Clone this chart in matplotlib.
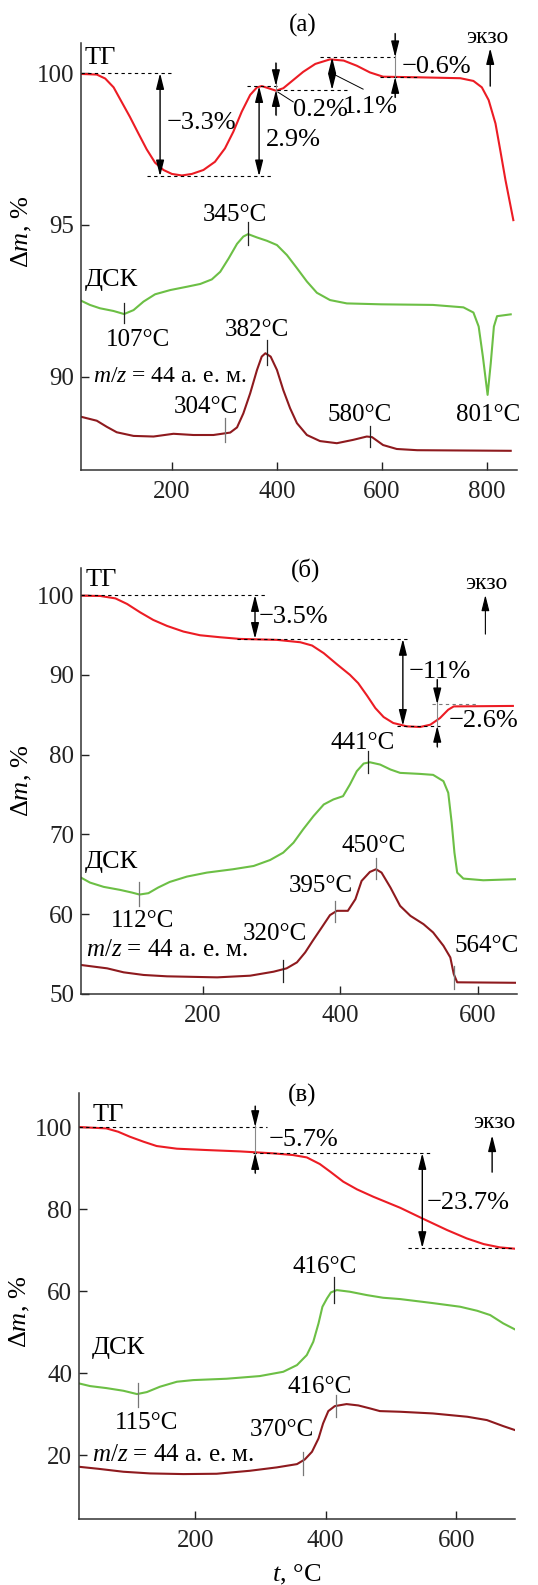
import matplotlib
matplotlib.use("Agg")
import matplotlib.pyplot as plt

plt.rcParams['font.family'] = ['Liberation Serif', 'DejaVu Serif']
plt.rcParams['mathtext.fontset'] = 'custom'
plt.rcParams['mathtext.rm'] = 'Liberation Serif'
plt.rcParams['mathtext.it'] = 'Liberation Serif:italic'

RED = "#ec1c24"
GREEN = "#6cbf45"
DARK = "#8e1a1e"
FS = 18

# ---- panel (а) ----
TG_A_T = [27, 57, 73, 89, 104, 120, 136, 152, 168, 184, 200, 219, 238, 260, 282, 301, 317, 333,
          349, 362, 371, 384, 398, 412, 431, 450, 473, 501, 527, 552, 577, 602, 667, 749, 774,
          790, 803, 816, 825, 835, 850]
TG_A = [99.97, 99.95, 99.82, 99.53, 99.06, 98.56, 98.02, 97.49, 97.05, 96.81, 96.68, 96.63, 96.68,
        96.81, 97.08, 97.52, 98.07, 98.73, 99.28, 99.53, 99.57, 99.50, 99.42, 99.50, 99.77, 100.04,
        100.30, 100.45, 100.41, 100.24, 100.02, 99.88, 99.86, 99.83, 99.74, 99.53, 99.11, 98.34,
        97.47, 96.48, 95.16]
DSC_A_T = [27, 44, 63, 89, 109, 127, 146, 168, 197, 229, 254, 276, 292, 308, 324, 336, 345, 362,
           381, 400, 419, 438, 457, 476, 501, 533, 598, 697, 755, 774, 784, 792, 801, 807, 813,
           819, 845]
DSC_A = [92.51, 92.37, 92.26, 92.17, 92.07, 92.2, 92.48, 92.72, 92.86, 92.97, 93.06, 93.21, 93.46,
         93.90, 94.38, 94.62, 94.70, 94.59, 94.48, 94.34, 94.01, 93.58, 93.14, 92.77, 92.53,
         92.42, 92.39, 92.37, 92.29, 92.12, 91.66, 90.67, 89.41, 90.45, 91.66, 92.0, 92.06]
MS_A_T = [27, 57, 76, 95, 127, 165, 203, 241, 279, 311, 324, 336, 349, 362, 371, 378, 388, 400,
          412, 425, 438, 457, 482, 514, 545, 571, 581, 602, 628, 667, 845]
MS_A = [88.69, 88.56, 88.36, 88.18, 88.06, 88.04, 88.13, 88.09, 88.09, 88.17, 88.34, 88.8, 89.46,
        90.23, 90.67, 90.78, 90.67, 90.23, 89.57, 88.97, 88.48, 88.09, 87.89, 87.82, 87.93, 88.04,
        88.02, 87.76, 87.63, 87.59, 87.57]

# ---- panel (б) ----
TG_B_T = [23, 51, 73, 90, 109, 128, 148, 172, 196, 225, 254, 308, 342, 359, 376, 395, 414, 426,
          439, 451, 463, 477, 497, 516, 531, 545, 557, 565, 651]
TG_B = [99.92, 99.88, 99.58, 98.88, 97.83, 96.88, 96.13, 95.42, 94.96, 94.71, 94.5, 94.38, 94.08,
        93.67, 92.71, 91.33, 90.0, 88.96, 87.38, 85.83, 84.71, 83.96, 83.54, 83.46, 83.75, 84.58,
        85.63, 86.04, 86.1]
DSC_B_T = [23, 36, 56, 80, 97, 108, 121, 135, 152, 177, 206, 244, 274, 298, 317, 332, 346, 361,
           376, 390, 404, 414, 424, 434, 443, 458, 473, 487, 516, 535, 550, 557, 562, 566, 570,
           579, 608, 654]
DSC_B = [64.58, 63.96, 63.42, 63.04, 62.71, 62.46, 62.63, 63.33, 64.04, 64.71, 65.21, 65.63, 66.04,
         66.79, 67.71, 68.96, 70.63, 72.29, 73.75, 74.38, 74.79, 76.25, 77.92, 78.88, 79.04, 78.75,
         78.13, 77.71, 77.58, 77.46, 76.67, 75.21, 71.46, 67.71, 65.21, 64.46, 64.25, 64.38]
MS_B_T = [23, 61, 85, 114, 148, 221, 269, 303, 322, 337, 349, 360, 373, 385, 395, 411, 422, 431,
          443, 452, 460, 473, 487, 502, 521, 535, 550, 560, 565, 570, 654]
MS_B = [53.63, 53.21, 52.71, 52.38, 52.21, 52.08, 52.29, 52.79, 53.21, 53.96, 55.21, 56.67, 58.33,
        59.88, 60.42, 60.42, 61.88, 64.17, 65.29, 65.63, 65.21, 63.33, 61.04, 59.79, 58.75, 57.71,
        56.04, 54.58, 52.5, 51.46, 51.4]

# ---- panel (в) ----
TG_C_T = [22, 64, 82, 100, 121, 141, 172, 218, 269, 320, 350, 371, 391, 407, 427, 448, 473, 514,
          548, 586, 616, 642, 667, 690]
TG_C = [100.0, 99.67, 98.86, 97.64, 96.42, 95.37, 94.72, 94.39, 94.06, 93.58, 93.17, 92.6, 90.98,
        89.11, 86.67, 84.8, 83.0, 80.32, 77.72, 74.88, 72.85, 71.46, 70.65, 70.33]
DSC_C_T = [22, 39, 64, 90, 111, 126, 146, 172, 197, 248, 299, 335, 356, 371, 381, 389, 395, 402,
           408, 417, 437, 463, 488, 514, 564, 606, 632, 652, 672, 690]
DSC_C = [37.48, 36.83, 36.34, 35.69, 34.88, 35.37, 36.67, 37.89, 38.29, 38.62, 39.27, 40.32, 41.95,
         44.39, 47.64, 52.12, 56.18, 58.21, 59.67, 60.24, 59.84, 59.02, 58.37, 58.05, 57.07, 56.18,
         55.2, 54.15, 52.12, 50.65]
MS_C_T = [22, 51, 90, 131, 182, 233, 284, 325, 356, 368, 379, 389, 396, 404, 414, 432, 450, 468,
          483, 514, 564, 617, 647, 672, 690]
MS_C = [17.15, 16.67, 15.94, 15.53, 15.37, 15.45, 16.18, 17.0, 17.8, 18.94, 20.81, 24.06, 27.72,
        30.73, 31.95, 32.44, 32.11, 31.38, 30.73, 30.57, 30.16, 29.35, 28.54, 27.07, 26.1]

MZ = "$m/z$ = 44 а. е. м."


def dashed(ax, y, x0, x1, color="k"):
    ax.plot([x0, x1], [y, y], color=color, lw=0.8, ls=(0, (3, 3)))


def darrow(ax, x, y0, y1):
    ax.annotate("", xy=(x, y1), xytext=(x, y0), annotation_clip=False,
                arrowprops=dict(arrowstyle="<|-|>,head_length=0.8,head_width=0.2",
                                color="k", lw=1.0, shrinkA=0, shrinkB=0, mutation_scale=12))


def arrow(ax, x, y0, y1, lw=1.0):
    ax.annotate("", xy=(x, y1), xytext=(x, y0), annotation_clip=False,
                arrowprops=dict(arrowstyle="-|>,head_length=0.8,head_width=0.2",
                                color="k", lw=lw, shrinkA=0, shrinkB=0, mutation_scale=12))


def inarrows(ax, x, top0, top1, bot0, bot1):
    ax.plot([x, x], [top0, bot0], color="#888888", lw=0.8, clip_on=False)
    arrow(ax, x, top0, top1)
    arrow(ax, x, bot0, bot1)


def mark(ax, x, y0, y1, color="#222222"):
    ax.plot([x, x], [y0, y1], color=color, lw=0.9)


def txt(ax, x, y, s, ha="center", size=FS):
    ax.text(x, y, s, ha=ha, va="center", fontsize=size, clip_on=False)


def setup(ax, xlim, ylim, yticks, ylab_y):
    ax.set_xlim(*xlim)
    ax.set_ylim(*ylim)
    ax.set_yticks(yticks)
    ax.set_xticks([200, 400, 600, 800] if xlim[1] > 800 else [200, 400, 600])
    for s in ("top", "right"):
        ax.spines[s].set_visible(False)
    for s in ("left", "bottom"):
        ax.spines[s].set_linewidth(1.1)
        ax.spines[s].set_color("#333333")
    ax.tick_params(direction="in", length=6, width=1, labelsize=FS, colors="#222222")
    ax.tick_params(axis="x", pad=8)
    ax.tick_params(axis="y", pad=5)
    ax.set_ylabel("Δ$m$, %", fontsize=FS + 1)
    ax.yaxis.label.set_va("center")
    ax.yaxis.set_label_coords(-0.135, ylab_y)


fig = plt.figure(figsize=(5.38, 15.85), dpi=100)
PS = 19  # percent labels

# (а)
ax = fig.add_axes([0.1506, 0.7035, 0.8104, 0.2694])
ax.plot(TG_A_T, TG_A, color=RED, lw=1.5)
ax.plot(DSC_A_T, DSC_A, color=GREEN, lw=1.5)
ax.plot(MS_A_T, MS_A, color=DARK, lw=1.5)
setup(ax, (27, 857), (86.94, 100.99), [90, 95, 100], 0.557)
dashed(ax, 100, 27, 200)
dashed(ax, 96.6, 152, 393)
dashed(ax, 99.57, 343, 406)
dashed(ax, 99.44, 400, 536)
dashed(ax, 100.52, 482, 625)
dashed(ax, 99.87, 597, 673)
darrow(ax, 177.5, 100, 96.6)
darrow(ax, 366, 99.57, 96.6)
darrow(ax, 505, 100.52, 99.44)
inarrows(ax, 398, 100.33, 99.57, 98.62, 99.44)
inarrows(ax, 625, 101.3, 100.52, 99.2, 99.87)
ax.plot([402, 431], [99.37, 99.05], color="k", lw=0.7)
ax.plot([507, 564], [99.97, 99.47], color="k", lw=0.7)
txt(ax, 190, 98.35, "−3.3%", ha="left", size=PS)
txt(ax, 379, 97.8, "2.9%", ha="left", size=PS)
txt(ax, 431, 98.78, "0.2%", ha="left", size=PS)
txt(ax, 526, 98.88, "1.1%", ha="left", size=PS)
txt(ax, 638, 100.2, "−0.6%", ha="left", size=PS)
txt(ax, 800, 101.18, "экзо", size=17)
arrow(ax, 806, 99.57, 100.82)
txt(ax, 34, 100.49, "ТГ", ha="left", size=19)
txt(ax, 450, 101.58, "(а)")
mark(ax, 109, 92.43, 91.78)
mark(ax, 344, 95.1, 94.34)
txt(ax, 320, 95.33, "345°C")
txt(ax, 136, 91.2, "107°C")
txt(ax, 35, 93.19, "ДСК", ha="left", size=19)
mark(ax, 302, 88.65, 87.86, "#777777")
mark(ax, 381, 91.2, 90.4)
mark(ax, 577, 88.4, 87.7)
txt(ax, 362, 91.55, "382°C")
txt(ax, 265, 89.0, "304°C")
txt(ax, 558, 88.75, "580°C")
txt(ax, 802, 88.75, "801°C")
txt(ax, 50, 90.0, MZ, ha="left", size=17)

# (б)
ax = fig.add_axes([0.1506, 0.3729, 0.8104, 0.2688])
ax.plot(TG_B_T, TG_B, color=RED, lw=1.5)
ax.plot(DSC_B_T, DSC_B, color=GREEN, lw=1.5)
ax.plot(MS_B_T, MS_B, color=DARK, lw=1.5)
setup(ax, (23, 657), (50, 103.4), [50, 60, 70, 80, 90, 100], 0.5)
dashed(ax, 100, 23, 291)
dashed(ax, 94.5, 250, 497)
dashed(ax, 83.6, 482, 545)
dashed(ax, 86.3, 533, 599, color="#777777")
darrow(ax, 276, 100, 94.5)
darrow(ax, 491, 94.5, 83.6)
inarrows(ax, 541, 89.4, 86.3, 81.0, 83.6)
txt(ax, 281, 97.25, "−3.5%", ha="left", size=PS)
txt(ax, 499, 90.4, "−11%", ha="left", size=PS)
txt(ax, 557, 84.25, "−2.6%", ha="left", size=PS)
txt(ax, 613, 101.5, "экзо", size=17)
arrow(ax, 611, 95.1, 100.0, lw=0.8)
txt(ax, 349, 103.1, "(б)")
txt(ax, 29, 101.9, "ТГ", ha="left", size=19)
mark(ax, 108, 64.0, 61.0, "#777777")
mark(ax, 441, 80.4, 77.75)
txt(ax, 113, 59.1, "112°C")
txt(ax, 432, 81.5, "441°C")
txt(ax, 29, 66.5, "ДСК", ha="left", size=19)
mark(ax, 316, 54.25, 51.5)
mark(ax, 392, 61.6, 59.0, "#777777")
mark(ax, 452, 67.1, 64.4, "#777777")
mark(ax, 565, 53.5, 50.6, "#777777")
txt(ax, 305, 57.5, "320°C")
txt(ax, 371, 63.5, "395°C")
txt(ax, 448, 68.6, "450°C")
txt(ax, 613, 56.0, "564°C")
txt(ax, 30, 55.5, MZ, ha="left")

# (в)
ax = fig.add_axes([0.1468, 0.0416, 0.8104, 0.2688])
ax.plot(TG_C_T, TG_C, color=RED, lw=1.5)
ax.plot(DSC_C_T, DSC_C, color=GREEN, lw=1.5)
ax.plot(MS_C_T, MS_C, color=DARK, lw=1.5)
setup(ax, (22, 690), (4.4, 108.3), [20, 40, 60, 80, 100], 0.486)
dashed(ax, 100, 22, 310)
dashed(ax, 93.66, 289, 563)
dashed(ax, 70.49, 526, 690)
inarrows(ax, 292, 105.1, 100, 88.8, 93.66)
darrow(ax, 548, 93.66, 70.49)
txt(ax, 312, 96.8, "−5.7%", ha="left", size=PS)
txt(ax, 555, 81.5, "−23.7%", ha="left", size=PS)
txt(ax, 658, 101.2, "экзо", size=17)
arrow(ax, 655, 89.0, 98.0)
txt(ax, 364, 107.8, "(в)")
txt(ax, 43, 102.9, "ТГ", ha="left", size=19)
mark(ax, 112, 37.6, 31.7, "#777777")
mark(ax, 413, 63.4, 57.1)
txt(ax, 126, 27.8, "115°C")
txt(ax, 399, 65.9, "416°C")
txt(ax, 42, 46.1, "ДСК", ha="left", size=19)
mark(ax, 365, 20.7, 15.1, "#777777")
mark(ax, 416, 34.6, 29.3, "#777777")
txt(ax, 391, 36.6, "416°C")
txt(ax, 333, 26.1, "370°C")
txt(ax, 42, 20.0, MZ, ha="left")
ax.set_xlabel("$t$, °C", fontsize=FS + 1)
ax.xaxis.label.set_va("center")
ax.xaxis.set_label_coords(0.5, -0.131)

fig.savefig("out.png", dpi=100)
